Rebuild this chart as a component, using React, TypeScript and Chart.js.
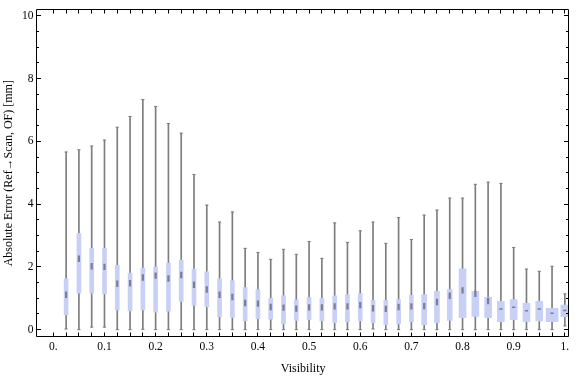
import { useEffect, useRef } from "react";
import { Chart, registerables } from "chart.js";

Chart.register(...registerables);

// ---- data ----
const visibility = [
  0.025, 0.05, 0.075, 0.1, 0.125, 0.15, 0.175, 0.2, 0.225, 0.25,
  0.275, 0.3, 0.325, 0.35, 0.375, 0.4, 0.425, 0.45, 0.475, 0.5,
  0.525, 0.55, 0.575, 0.6, 0.625, 0.65, 0.675, 0.7, 0.725, 0.75,
  0.775, 0.8, 0.825, 0.85, 0.875, 0.9, 0.925, 0.95, 0.975, 1.0,
];
const whiskerLow = [
  0.02, 0.0, 0.08, 0.08, 0.0, 0.0, 0.01, 0.0, 0.0, 0.0,
  0.0, 0.0, 0.0, 0.0, 0.0, 0.0, 0.0, 0.0, 0.0, 0.0,
  0.0, 0.0, 0.0, 0.0, 0.02, 0.0, 0.0, 0.0, 0.0, 0.0,
  0.0, 0.0, 0.0, 0.0, 0.0, 0.0, 0.0, 0.0, 0.0, 0.12,
];
const quartile1 = [
  0.47, 1.16, 1.16, 1.14, 0.63, 0.6, 0.63, 0.56, 0.59, 0.9,
  0.78, 0.72, 0.41, 0.39, 0.28, 0.35, 0.33, 0.18, 0.29, 0.32,
  0.28, 0.22, 0.25, 0.28, 0.22, 0.16, 0.18, 0.25, 0.16, 0.22,
  0.29, 0.38, 0.42, 0.38, 0.25, 0.32, 0.25, 0.28, 0.25, 0.41,
];
const median = [
  1.11, 2.26, 2.02, 2.0, 1.46, 1.48, 1.66, 1.72, 1.63, 1.74,
  1.43, 1.28, 1.11, 1.04, 0.85, 0.83, 0.72, 0.7, 0.67, 0.71,
  0.71, 0.74, 0.74, 0.78, 0.68, 0.66, 0.72, 0.74, 0.75, 0.88,
  1.08, 1.25, 1.14, 0.91, 0.66, 0.71, 0.6, 0.66, 0.52, 0.61,
];
const quartile3 = [
  1.62, 3.07, 2.59, 2.59, 2.05, 1.8, 1.96, 1.99, 2.12, 2.22,
  1.93, 1.84, 1.62, 1.56, 1.34, 1.28, 1.0, 1.08, 0.95, 1.02,
  1.0, 1.08, 1.12, 1.15, 0.93, 0.93, 0.96, 1.09, 1.12, 1.22,
  1.28, 1.94, 1.22, 1.03, 0.9, 0.96, 0.84, 0.9, 0.68, 0.78,
];
const whiskerHigh = [
  5.66, 5.73, 5.85, 6.04, 6.45, 6.79, 7.33, 7.11, 6.57, 6.26,
  4.94, 3.97, 3.43, 3.75, 2.59, 2.46, 2.24, 2.56, 2.4, 2.81,
  2.27, 3.4, 2.78, 3.15, 3.43, 2.75, 3.57, 2.87, 3.65, 3.81,
  4.19, 4.19, 4.63, 4.7, 4.66, 2.62, 1.93, 1.86, 2.02, 1.14,
];
const yMajorTicks = [0, 2, 4, 6, 8, 10];
const xLabelTicks = [0, 0.1, 0.2, 0.3, 0.4, 0.5, 0.6, 0.7, 0.8, 0.9, 1.0];

// ---- styling (kept apart from data) ----
const boxWidthPx = [
  4, 4, 4, 4, 4, 4, 4, 4, 4, 4,
  4, 4, 4, 4, 4, 4, 4, 4, 4, 4,
  4, 4, 4, 4, 4, 4, 4, 4, 5, 5,
  5, 7, 7, 7, 7, 7, 7, 7, 12, 8,
];
const medianFlat = visibility.map((_, i) => i >= 34);

const BOX_COLOR = "rgb(201,208,246)";
const WHISKER_COLOR = "rgb(125,125,125)";
const FONT = "'Liberation Serif', 'Times New Roman', serif";

const framePlugin = {
  id: "mmaFrame",
  afterDraw(chart: any) {
    const { ctx, chartArea: a, scales } = chart;
    const x = scales.x;
    const y = scales.y;
    ctx.save();
    ctx.strokeStyle = "#000";
    ctx.lineWidth = 1;
    ctx.beginPath();
    const L = Math.floor(a.left) + 0.5;
    const R = Math.floor(a.right) - 0.5;
    const T = Math.floor(a.top) + 0.5;
    const B = Math.floor(a.bottom) + 0.5;
    ctx.rect(L, T, R - L, B - T);
    x.ticks.forEach((t: any) => {
      if (t.value < -1e-9) return;
      const px = Math.floor(x.getPixelForValue(t.value)) + 0.5;
      ctx.moveTo(px, B);
      ctx.lineTo(px, B - 4);
      ctx.moveTo(px, T);
      ctx.lineTo(px, T + 4);
    });
    y.ticks.forEach((t: any) => {
      if (t.value < -1e-9) return;
      const major = yMajorTicks.some((m) => Math.abs(m - t.value) < 1e-6);
      const len = major ? 4.5 : 2.5;
      const py = Math.floor(y.getPixelForValue(t.value)) + 0.5;
      ctx.moveTo(L, py);
      ctx.lineTo(L + len, py);
      ctx.moveTo(R, py);
      ctx.lineTo(R - len, py);
    });
    ctx.stroke();
    ctx.restore();
  },
};

export default function App() {
  const ref = useRef<HTMLCanvasElement | null>(null);

  useEffect(() => {
    document.body.style.margin = "0";
    const canvas = ref.current;
    if (!canvas) return;

    const whiskers = {
      type: "bar" as const,
      data: visibility.map((v, i) => ({ x: v, y: [whiskerLow[i], whiskerHigh[i]] })),
      backgroundColor: WHISKER_COLOR,
      barThickness: 1,
      grouped: false,
      order: 5,
    };

    const widths = Array.from(new Set(boxWidthPx));
    const boxes = widths.map((w) => ({
      type: "bar" as const,
      data: visibility
        .map((v, i) => ({ x: v, y: [quartile1[i], quartile3[i]], w: boxWidthPx[i] }))
        .filter((d) => d.w === w)
        .map((d) => ({ x: d.x, y: d.y })),
      backgroundColor: BOX_COLOR,
      barThickness: w,
      grouped: false,
      order: 3,
    }));

    const caps = {
      type: "scatter" as const,
      data: [
        ...visibility.map((v, i) => ({ x: v, y: whiskerLow[i] })),
        ...visibility.map((v, i) => ({ x: v, y: whiskerHigh[i] })),
      ],
      pointStyle: "line",
      pointRadius: 1.6,
      pointBorderColor: WHISKER_COLOR,
      pointBorderWidth: 1,
      order: 4,
    };

    const medians = {
      type: "scatter" as const,
      data: visibility.map((v, i) => ({ x: v, y: median[i] })),
      pointStyle: "line",
      pointRadius: (c: any) => (medianFlat[c.dataIndex] ? 1.6 : 3.2),
      pointRotation: (c: any) => (medianFlat[c.dataIndex] ? 0 : 90),
      pointBorderColor: "rgba(80,80,95,0.65)",
      pointBorderWidth: (c: any) => (medianFlat[c.dataIndex] ? 1.5 : 2.2),
      order: 1,
    };

    const chart = new Chart(canvas, {
      type: "bar",
      data: { datasets: [whiskers as any, ...(boxes as any[]), caps as any, medians as any] },
      options: {
        animation: false,
        responsive: false,
        devicePixelRatio: 1,
        layout: { padding: { top: 4.5, right: 0.5, left: 0, bottom: 0 } },
        plugins: { legend: { display: false }, tooltip: { enabled: false } },
        scales: {
          x: {
            type: "linear",
            min: -0.0329,
            max: 1.0097,
            offset: false,
            grid: { display: false, drawTicks: false },
            border: { display: false },
            ticks: {
              stepSize: 0.025,
              maxTicksLimit: 200,
              includeBounds: false,
              autoSkip: false,
              maxRotation: 0,
              padding: 4,
              color: "#000",
              font: { family: FONT, size: 11.5 },
              callback: (value: any) => {
                const v = Number(value);
                const hit = xLabelTicks.find((t) => Math.abs(t - v) < 1e-6);
                if (hit === undefined) return "";
                if (hit === 0) return "0.";
                if (hit === 1) return "1.";
                return hit.toFixed(1);
              },
            },
            title: {
              display: true,
              text: "Visibility",
              color: "#000",
              font: { family: FONT, size: 12, lineHeight: 1.2 },
              padding: { top: 0, bottom: 1 },
            },
            afterFit: (s: any) => {
              s.height = 40.5;
            },
          },
          y: {
            type: "linear",
            min: -0.219,
            max: 10.188,
            grid: { display: false, drawTicks: false },
            border: { display: false },
            ticks: {
              stepSize: 0.5,
              maxTicksLimit: 200,
              includeBounds: false,
              autoSkip: false,
              padding: 3,
              color: "#000",
              font: { family: FONT, size: 11.5 },
              callback: (value: any) => {
                const v = Number(value);
                const hit = yMajorTicks.find((t) => Math.abs(t - v) < 1e-6);
                return hit === undefined ? "" : String(hit);
              },
            },
            title: {
              display: true,
              text: "Absolute Error (Ref\u2192Scan, OF) [mm]",
              color: "#000",
              font: { family: FONT, size: 12, lineHeight: 1.2 },
              padding: { top: 1.3, bottom: 0 },
            },
            afterFit: (s: any) => {
              s.width = 36.5;
            },
          },
        },
      },
      plugins: [framePlugin],
    } as any);

    return () => chart.destroy();
  }, []);

  return (
    <canvas
      ref={ref}
      width={576}
      height={377}
      style={{ display: "block", width: 576, height: 377 }}
    />
  );
}
